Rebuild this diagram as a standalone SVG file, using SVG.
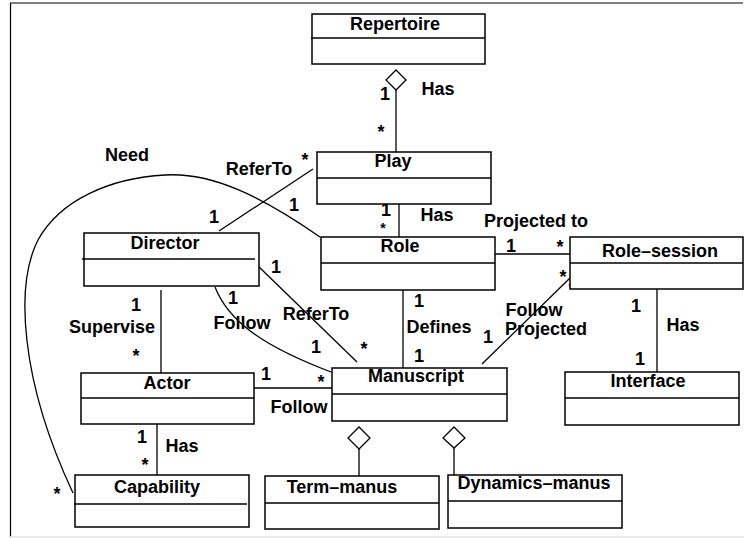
<svg xmlns="http://www.w3.org/2000/svg" width="744" height="538" viewBox="0 0 744 538">
<style>
text{font-family:"Liberation Sans",Arial,sans-serif;font-weight:bold;font-size:18px;fill:#000;text-anchor:middle}
.box{fill:#fff;stroke:#000;stroke-width:1.5}
.div{stroke:#000;stroke-width:1.5}
.ln{stroke:#000;stroke-width:1.3;fill:none}
.dia{fill:#fff;stroke:#000;stroke-width:1.3}
.sm{font-size:13px}
.xs{font-size:14px}
</style>
<rect width="744" height="538" fill="#fff"/>
<g id="frame">
<line x1="10" y1="3" x2="743" y2="3" stroke="#808080" stroke-width="2"/>
<line x1="10.5" y1="3" x2="10.5" y2="537" stroke="#000" stroke-width="1.2"/>
<line x1="10" y1="537" x2="744" y2="537" stroke="#e4e4e4" stroke-width="1.5"/>
</g>
<g id="connectors">
<line class="ln" x1="396" y1="90" x2="396" y2="152"/>
<polygon class="dia" points="396,70 406,80 396,90 386,80"/>
<line class="ln" x1="399" y1="204" x2="399" y2="237"/>
<line class="ln" x1="313" y1="169" x2="219" y2="231"/>
<line class="ln" x1="495" y1="254" x2="570" y2="254"/>
<line class="ln" x1="570" y1="278" x2="482" y2="364"/>
<line class="ln" x1="657" y1="289" x2="657" y2="372"/>
<line class="ln" x1="403" y1="290" x2="403" y2="368"/>
<line class="ln" x1="257" y1="265" x2="357" y2="362"/>
<line class="ln" x1="161" y1="290" x2="161" y2="373"/>
<line class="ln" x1="254" y1="388" x2="332" y2="388"/>
<line class="ln" x1="157" y1="424" x2="157" y2="475"/>
<path class="ln" d="M215,287 C228,320 260,345 331,372"/>
<path class="ln" d="M320,237 C260,195 210,172 165,175 C110,178 60,200 38,240 C15,285 20,380 73,493"/>
<line class="ln" x1="359" y1="449" x2="359" y2="476"/>
<polygon class="dia" points="359,427 370,438 359,449 348,438"/>
<line class="ln" x1="454" y1="448" x2="454" y2="475"/>
<polygon class="dia" points="454,427 465,438 454,448 443,438"/>
</g>
<g id="labels">
<text x="438" y="95">Has</text><text x="385" y="100">1</text><text x="381" y="138">*</text>
<text x="127" y="161">Need</text>
<text x="259" y="175">ReferTo</text>
<text x="305" y="166">*</text>
<text x="294" y="211">1</text>
<text x="214" y="223">1</text>
<text x="276" y="273">1</text>
<text x="386" y="216">1</text><text class="xs" x="383" y="233">*</text><text x="437" y="221">Has</text>
<text x="536" y="227">Projected to</text>
<text x="511" y="252">1</text><text x="560" y="253">*</text>
<text x="563" y="283">*</text>
<text class="sm" x="571" y="292">*</text>
<text x="534" y="316">Follow</text><text x="546" y="335">Projected</text><text x="488" y="343">1</text>
<text x="636" y="312">1</text><text x="683" y="331">Has</text><text x="640" y="365">1</text>
<text x="136" y="311">1</text><text x="112" y="333">Supervise</text><text x="136" y="362">*</text>
<text x="233" y="304">1</text><text x="242" y="329">Follow</text>
<text x="316" y="320">ReferTo</text><text x="364" y="355">*</text><text x="316" y="353">1</text>
<text x="266" y="380">1</text><text x="321" y="388">*</text><text x="299" y="413">Follow</text>
<text x="419" y="307">1</text><text x="439" y="333">Defines</text><text x="419" y="362">1</text>
<text x="142" y="443">1</text><text x="182" y="452">Has</text><text x="145" y="471">*</text>
<text x="57" y="500">*</text>
</g>
<g id="Repertoire"><rect class="box" x="312" y="14" width="173" height="50"/><line class="div" x1="311" y1="38" x2="485" y2="38"/><text x="395" y="30">Repertoire</text></g>
<g id="Play"><rect class="box" x="317" y="152" width="174" height="52"/><line class="div" x1="317" y1="178" x2="491" y2="178"/><text x="393" y="167">Play</text></g>
<g id="Role"><rect class="box" x="321" y="237" width="174" height="53"/><line class="div" x1="321" y1="263" x2="495" y2="263"/><text x="400" y="252">Role</text></g>
<g id="Director"><rect class="box" x="84" y="233" width="175" height="53"/><line class="div" x1="82" y1="259" x2="255" y2="259"/><text x="165" y="249">Director</text></g>
<g id="Role-session"><rect class="box" x="570" y="237" width="173" height="52"/><line class="div" x1="570" y1="263" x2="743" y2="263"/><text x="660" y="257">Role–session</text></g>
<g id="Interface"><rect class="box" x="565" y="372" width="174" height="53"/><line class="div" x1="565" y1="398" x2="739" y2="398"/><text x="648" y="387">Interface</text></g>
<g id="Actor"><rect class="box" x="81" y="373" width="173" height="51"/><line class="div" x1="81" y1="398" x2="254" y2="398"/><text x="167" y="389">Actor</text></g>
<g id="Manuscript"><rect class="box" x="332" y="368" width="175" height="53"/><line class="div" x1="332" y1="394" x2="507" y2="394"/><text x="416" y="382">Manuscript</text></g>
<g id="Capability"><rect class="box" x="75" y="475" width="174" height="52"/><line class="div" x1="74" y1="504" x2="247" y2="504"/><text x="157" y="493">Capability</text></g>
<g id="Term-manus"><rect class="box" x="265" y="476" width="174" height="53"/><line class="div" x1="265" y1="503" x2="439" y2="503"/><text x="342" y="493">Term–manus</text></g>
<g id="Dynamics-manus"><rect class="box" x="448" y="475" width="174" height="53"/><line class="div" x1="448" y1="501" x2="622" y2="501"/><text x="534" y="489">Dynamics–manus</text></g>
</svg>
